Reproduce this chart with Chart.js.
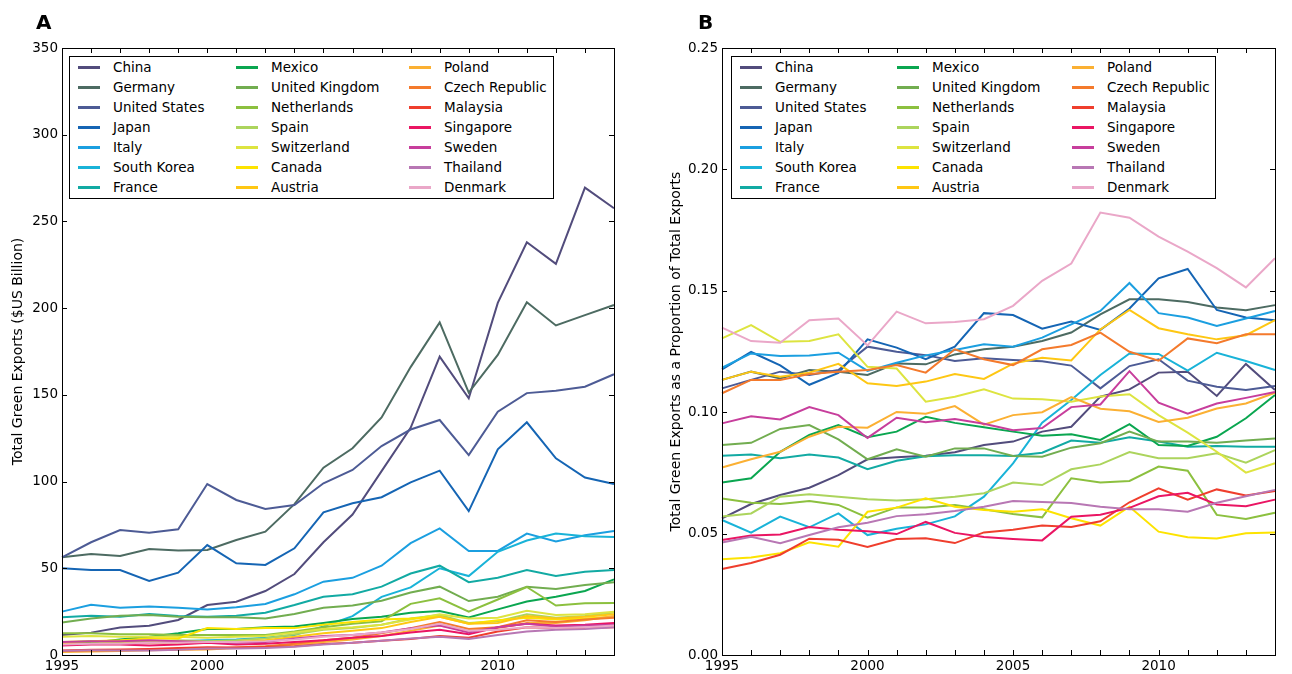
<!DOCTYPE html>
<html>
<head>
<meta charset="utf-8">
<title>Green exports</title>
<script src="https://cdn.jsdelivr.net/npm/chart.js@4.4.0/dist/chart.umd.min.js"></script>
<style>
  body { margin: 0; background: #fff; }
  #wrap { position: relative; width: 1292px; height: 674px; overflow: hidden;
          font-family: "DejaVu Sans", sans-serif; color: #000; }
  canvas { position: absolute; top: 0; }
  .panel { position: absolute; font-weight: bold; font-size: 20px; line-height: 20px; }
  .legend { position: absolute; box-sizing: border-box; border: 1px solid #000; background: #fff;
            display: grid; grid-auto-flow: column; grid-template-rows: repeat(7, 20px);
            font-size: 13.5px; }
  .item { display: flex; align-items: center; white-space: nowrap; }
  .swatch { display: inline-block; width: 22px; height: 3px; margin-right: 13px; }
</style>
</head>
<body>
<div id="wrap">
  <canvas id="chartA" width="646" height="674" style="left:0"></canvas>
  <canvas id="chartB" width="646" height="674" style="left:646px"></canvas>
  <div class="panel" style="left:36px;top:12px">A</div>
  <div class="panel" style="left:698px;top:12px">B</div>
  <div class="legend" id="legendA" style="left:69px;top:56px;width:485px;height:143px;padding-left:8px;grid-template-columns:158px 173px 1fr"></div>
  <div class="legend" id="legendB" style="left:731px;top:56px;width:485px;height:143px;padding-left:8px;grid-template-columns:157px 175px 1fr"></div>
</div>
<script>
// ---- data -------------------------------------------------------------
const years = ['1995','1996','1997','1998','1999','2000','2001','2002','2003','2004',
               '2005','2006','2007','2008','2009','2010','2011','2012','2013','2014'];

const countries = ['China','Germany','United States','Japan','Italy','South Korea','France',
                   'Mexico','United Kingdom','Netherlands','Spain','Switzerland','Canada','Austria',
                   'Poland','Czech Republic','Malaysia','Singapore','Sweden','Thailand','Denmark'];

const lineColors = ['#524c7c','#4d6b62','#4d5b95','#1565b4','#1b9fe0','#19b3d8','#12aaa3',
                    '#0aa650','#72ad50','#8cc03f','#acd45d','#dde440','#fde300','#fec713',
                    '#fbb033','#f47a2c','#ef3e2d','#ea1563','#c73e9c','#b877b4','#eaa7c8'];

// Total green exports, $US billion
const usdChina       = [11.5,12.9,15.8,16.9,20.2,28.8,30.7,36.9,46.7,65,81,106,131,172,148,203,238,225.5,269.5,257.6];
const usdGermany     = [56.3,58.2,57.1,61.1,60.2,60.6,66.3,71.1,87,108,119.2,137,166,191.8,151.3,173,203.4,190,196,201.8];
const usdUS          = [56.3,65,72.1,70.5,72.5,98.6,89.4,84.2,86.5,99,106.7,120.5,130,135.5,115.3,140.3,151,152.4,154.7,161.9];
const usdJapan       = [50,49,49,42.7,47.5,63.4,52.9,51.9,61.5,82.3,87.5,91,99.5,106.3,83,118.6,134.2,113.4,102.3,98.6];
const usdItaly       = [25,29,27.3,27.9,27.3,26.3,27.5,29.4,35,42.3,44.5,51.5,64.5,73,60,60,70,65.5,69,71.5];
const usdKorea       = [7,8,8,7,8,8.5,9,10,11.5,16.5,22.4,33.5,39,50,45.5,59.5,66,70,68.5,68];
const usdFrance      = [21.7,22.7,22.1,23.6,22.5,22.1,22.7,24.4,28.8,33.6,35,39.4,47,51.5,42,44.5,49,45.5,48,49];
const usdMexico      = [6,7,9,10.5,12.5,15,15,16,16.5,18.5,20.8,22.1,24.4,25.4,21.7,26.3,30.8,33.6,36.9,43.6];
const usdUK          = [18.8,21.1,22.7,23,22.1,21.7,21.7,21.1,23.6,27.3,28.5,31.3,36,39.4,31.1,33.6,39.4,38,40.4,41.9];
const usdNetherlands = [12.5,12.5,12,12,11.5,11.5,11.5,11.5,13.5,16,18,19.5,29.5,32.7,25,32,39.2,28.5,29.9,30];
const usdSpain       = [6,6.5,7.5,8,8.5,8,8.5,9.5,12,14.5,15.5,17.5,21,23,18.5,19.5,23.5,21.5,22.5,24.5];
const usdSwitzerland = [10.5,11,10.5,10.5,10.5,10,10.5,11,13,15,16,17.5,20.5,23.5,21,21.5,25.5,23,23.5,25];
const usdCanada      = [7.5,8,8.5,9.5,9.5,15.5,15,15.5,15.5,17.5,19,20.5,21,22,18,20,21.5,20.5,21,22];
const usdAustria     = [6.5,6.5,6.5,7,7,7,7.5,8.5,10.5,12.5,14,15.5,19,22,18,18.5,22.5,21,22,23.5];
const usdPoland      = [1.8,2,2.3,2.8,3,3.2,4,4.5,6,7.5,9,11,14,17,14,15.5,18.5,18.5,20,22.5];
const usdCzech       = [2.3,2.6,2.8,3.2,3.3,3.5,4.3,5,6.5,8.5,10,12.5,15.5,19,15,16,20,19,20.5,21.5];
const usdMalaysia    = [2.6,3,3.2,3.5,4,4.5,4.3,4.6,5,6.3,7,8.2,9.2,11,10,13.5,16,15.5,15.5,16];
const usdSingapore   = [5.5,6,6,5.5,6,7,6,6.5,7.5,8.5,10,11,13,14.5,12,16,18,17,17.5,18.5];
const usdSweden      = [7.5,8,8,8.5,8,7.5,7,7.5,9.5,11,11.5,13,15.5,17,13,16,18,16.5,17,17.5];
const usdThailand    = [2.5,2.7,2.6,2.6,3,3.7,3.7,4.1,4.8,6,7,8.2,9.5,10.5,9.3,11.5,13.5,14.5,15,16];
const usdDenmark     = [6,6.5,6.5,7,7,7.5,7.5,8,9,10.5,11.5,13,15,18,14,14.5,16,15.5,16,17];

// Green exports as a share of total exports
const shareChina       = [0.0563,0.0622,0.0659,0.0689,0.0741,0.0806,0.0814,0.0821,0.0835,0.0865,0.0879,0.092,0.094,0.1064,0.1094,0.1163,0.1167,0.1067,0.1199,0.1091];
const shareGermany     = [0.1133,0.1167,0.1139,0.1174,0.1167,0.1153,0.1201,0.1197,0.1238,0.1259,0.127,0.1293,0.1328,0.1403,0.1465,0.1465,0.1454,0.1431,0.142,0.1441];
const shareUS          = [0.1098,0.1133,0.1167,0.1153,0.1174,0.127,0.1249,0.1235,0.1211,0.1222,0.1215,0.121,0.1192,0.1098,0.119,0.1218,0.113,0.1105,0.1091,0.1108];
const shareJapan       = [0.1176,0.1248,0.1193,0.1113,0.1162,0.130,0.1266,0.1218,0.127,0.1408,0.140,0.1344,0.1373,0.1339,0.1427,0.1551,0.159,0.1421,0.139,0.1379];
const shareItaly       = [0.1183,0.1242,0.1231,0.1234,0.1245,0.117,0.1204,0.1234,0.1256,0.128,0.127,0.1307,0.1362,0.1417,0.1532,0.1408,0.139,0.1355,0.1386,0.1417];
const shareKorea       = [0.0556,0.0504,0.057,0.0526,0.0583,0.0494,0.052,0.0538,0.0571,0.0652,0.0789,0.0957,0.105,0.1153,0.1242,0.124,0.1171,0.1245,0.1211,0.1174];
const shareFrance      = [0.0821,0.0826,0.081,0.0826,0.0813,0.0765,0.08,0.0819,0.0823,0.0823,0.082,0.0833,0.0883,0.0874,0.0897,0.0879,0.0858,0.0861,0.0858,0.0858];
const shareMexico      = [0.071,0.0728,0.0837,0.0906,0.0947,0.0897,0.092,0.0981,0.0956,0.0938,0.092,0.0903,0.0909,0.0886,0.0951,0.0865,0.0861,0.0899,0.0975,0.1071];
const shareUK          = [0.0865,0.0874,0.0931,0.0947,0.0888,0.0806,0.0847,0.0817,0.0851,0.0851,0.082,0.0817,0.0854,0.0872,0.092,0.0879,0.0879,0.0874,0.0883,0.0892];
const shareNetherlands = [0.0645,0.0627,0.0622,0.0634,0.0618,0.0566,0.0608,0.0608,0.0618,0.06,0.0581,0.0567,0.0728,0.071,0.0717,0.0776,0.0759,0.0577,0.056,0.0586];
const shareSpain       = [0.057,0.0583,0.0652,0.0662,0.0652,0.0641,0.0636,0.0641,0.0652,0.0666,0.071,0.07,0.0765,0.0785,0.0836,0.081,0.081,0.0831,0.0792,0.0844];
const shareSwitzerland = [0.1304,0.1359,0.129,0.1293,0.1321,0.1187,0.118,0.1043,0.1064,0.1094,0.1056,0.1053,0.1043,0.1065,0.1074,0.0988,0.0916,0.0837,0.0751,0.079];
const shareCanada      = [0.0394,0.0402,0.0419,0.0464,0.0446,0.059,0.0607,0.0645,0.0611,0.0597,0.059,0.06,0.0563,0.0533,0.0611,0.0508,0.0485,0.048,0.0501,0.0505];
const shareAustria     = [0.1133,0.1167,0.1146,0.1163,0.1199,0.1119,0.1108,0.1126,0.1157,0.1137,0.12,0.1224,0.1213,0.1341,0.1421,0.1346,0.1321,0.13,0.1317,0.1379];
const sharePoland      = [0.0772,0.0806,0.0837,0.0899,0.094,0.0936,0.1001,0.0994,0.1025,0.0949,0.0988,0.10,0.1062,0.1014,0.1004,0.096,0.0977,0.1015,0.1036,0.108];
const shareCzech       = [0.1078,0.1133,0.1133,0.1157,0.1167,0.1174,0.1194,0.1163,0.1259,0.1218,0.1194,0.1259,0.1277,0.1328,0.1249,0.1212,0.1304,0.1284,0.1321,0.1321];
const shareMalaysia    = [0.0354,0.0379,0.0413,0.0479,0.0475,0.0445,0.0478,0.0481,0.0461,0.0505,0.0516,0.0533,0.0527,0.0551,0.0629,0.0686,0.064,0.0682,0.0657,0.0675];
const shareSingapore   = [0.0474,0.0492,0.0496,0.0527,0.0516,0.051,0.0498,0.0548,0.0503,0.0486,0.0478,0.0472,0.0569,0.0578,0.0606,0.0654,0.0668,0.062,0.0613,0.064];
const shareSweden      = [0.0954,0.0983,0.097,0.1021,0.0988,0.0894,0.0977,0.0959,0.0972,0.0952,0.0926,0.0935,0.1021,0.1032,0.1169,0.1039,0.0994,0.1036,0.1059,0.1083];
const shareThailand    = [0.0463,0.0487,0.046,0.0494,0.0526,0.0545,0.0572,0.058,0.0593,0.0611,0.0634,0.063,0.0626,0.0611,0.06,0.06,0.059,0.0627,0.0654,0.068];
const shareDenmark     = [0.1348,0.1293,0.1286,0.1379,0.1386,0.1275,0.1414,0.1366,0.1372,0.1383,0.1438,0.1541,0.1612,0.1822,0.1801,0.1723,0.1661,0.1593,0.1514,0.1634];

const usdSeries = [usdChina,usdGermany,usdUS,usdJapan,usdItaly,usdKorea,usdFrance,usdMexico,usdUK,
  usdNetherlands,usdSpain,usdSwitzerland,usdCanada,usdAustria,usdPoland,usdCzech,usdMalaysia,
  usdSingapore,usdSweden,usdThailand,usdDenmark];
const shareSeries = [shareChina,shareGermany,shareUS,shareJapan,shareItaly,shareKorea,shareFrance,
  shareMexico,shareUK,shareNetherlands,shareSpain,shareSwitzerland,shareCanada,shareAustria,
  sharePoland,shareCzech,shareMalaysia,shareSingapore,shareSweden,shareThailand,shareDenmark];

const usdTicks = { min: 0, max: 350, step: 50 };
const shareTicks = { min: 0, max: 0.25, step: 0.05 };

// ---- drawing ------------------------------------------------------------
Chart.defaults.font.family = '"DejaVu Sans", sans-serif';
Chart.defaults.font.size = 13.5;
Chart.defaults.color = '#000';

// Axes frame with inward tick marks on all four sides
const boxedAxes = {
  id: 'boxedAxes',
  afterDraw(chart) {
    const { ctx, chartArea: a, scales } = chart;
    const len = 5;
    ctx.save();
    ctx.strokeStyle = '#000';
    ctx.lineWidth = 1;
    ctx.beginPath();
    scales.x.ticks.forEach((t, i) => {
      const px = Math.round(scales.x.getPixelForTick(i)) + 0.5;
      ctx.moveTo(px, a.bottom); ctx.lineTo(px, a.bottom - len);
      ctx.moveTo(px, a.top);    ctx.lineTo(px, a.top + len);
    });
    scales.y.ticks.forEach(t => {
      const py = Math.round(scales.y.getPixelForValue(t.value)) + 0.5;
      ctx.moveTo(a.left, py);  ctx.lineTo(a.left + len, py);
      ctx.moveTo(a.right, py); ctx.lineTo(a.right - len, py);
    });
    ctx.stroke();
    ctx.strokeRect(Math.round(a.left) + 0.5, Math.round(a.top) + 0.5,
                   Math.round(a.width), Math.round(a.height));
    ctx.restore();
  }
};

function makePanel(id, series, range, title, yWidth, rightPad, titlePad, fmt) {
  const datasets = series.map((vals, i) => ({
    label: countries[i],
    data: vals,
    borderColor: lineColors[i],
    backgroundColor: lineColors[i],
    borderWidth: 2,
    pointRadius: 0,
    tension: 0,
    fill: false,
    order: series.length - i
  }));
  return new Chart(document.getElementById(id), {
    type: 'line',
    data: { labels: years, datasets },
    options: {
      responsive: false,
      animation: false,
      devicePixelRatio: 1,
      layout: { padding: { top: 48, right: rightPad, left: 0, bottom: 0 } },
      plugins: { legend: { display: false }, tooltip: { enabled: false } },
      scales: {
        x: {
          offset: false,
          grid: { display: false, drawTicks: false },
          border: { display: false },
          ticks: {
            autoSkip: false, maxRotation: 0, padding: 3,
            callback: (v, i) => (Number(years[i]) % 5 === 0 ? years[i] : '')
          },
          afterFit: s => { s.height = 19; }
        },
        y: {
          min: range.min, max: range.max,
          grid: { display: false, drawTicks: false },
          border: { display: false },
          ticks: { stepSize: range.step, padding: 4, callback: fmt },
          title: { display: true, text: title, font: { size: 14 }, padding: { top: titlePad, bottom: 0 } },
          afterFit: s => { s.width = yWidth; }
        }
      }
    },
    plugins: [boxedAxes]
  });
}

function buildLegend(chart, el) {
  chart.data.datasets.forEach(ds => {
    const item = document.createElement('div');
    item.className = 'item';
    const sw = document.createElement('span');
    sw.className = 'swatch';
    sw.style.background = ds.borderColor;
    const txt = document.createElement('span');
    txt.textContent = ds.label;
    item.appendChild(sw);
    item.appendChild(txt);
    el.appendChild(item);
  });
}

const chartA = makePanel('chartA', usdSeries, usdTicks, 'Total Green Exports ($US Billion)',
                         62, 32, 10, v => String(v));
const chartB = makePanel('chartB', shareSeries, shareTicks,
                         'Total Green Exports as a Proportion of Total Exports',
                         76, 17, 22, v => Number(v).toFixed(2));
buildLegend(chartA, document.getElementById('legendA'));
buildLegend(chartB, document.getElementById('legendB'));
</script>
</body>
</html>
